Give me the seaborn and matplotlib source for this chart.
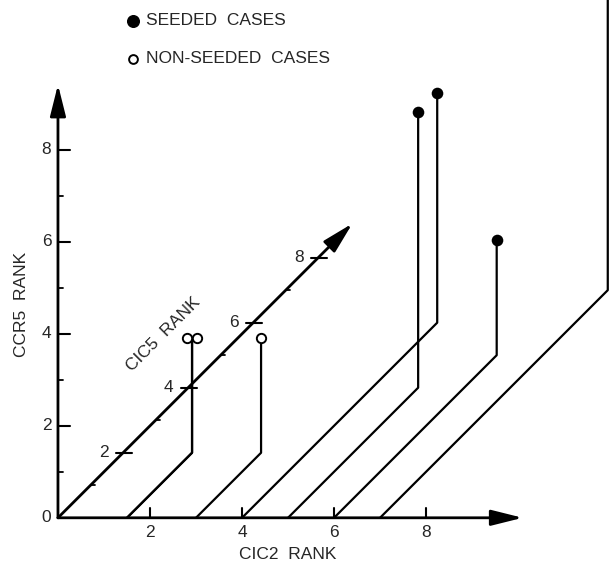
import numpy as np
import pandas as pd
import matplotlib
matplotlib.use("Agg")
import matplotlib.pyplot as plt
import seaborn as sns

# ranks of each case (two non-seeded cases coincide; the last one runs off the page)
cic2_rank = [1.5, 1.5, 3, 4, 5, 6, 7]
cic5_rank = [2, 2, 2, 6, 4, 5, 7]
ccr5_rank = [2.5, 2.5, 2.5, 5, 6, 2.5, 7]
group = ["NON-SEEDED", "NON-SEEDED", "NON-SEEDED", "SEEDED", "SEEDED", "SEEDED", "SEEDED"]

x_ticks = [2, 4, 6, 8]
y_ticks = [0, 2, 4, 6, 8]
y_minor = [1, 3, 5, 7]
z_ticks = [2, 4, 6, 8]
z_minor = [1, 3, 5, 7]

DEPTH = np.cos(np.pi / 4)  # oblique projection of the CIC5 axis
FS = 12.5

sns.set_style("white")
plt.rcParams["font.family"] = ["Liberation Sans", "DejaVu Sans"]

cases = pd.DataFrame({"cic2": cic2_rank, "cic5": cic5_rank,
                      "ccr5": ccr5_rank, "group": group})
cases["case"] = range(len(cases))
cases["px"] = cases.cic2 + DEPTH * cases.cic5
cases["py"] = cases.ccr5 + DEPTH * cases.cic5

# spread coincident points a little so both circles show
dup = cases.groupby(["px", "py"]).cumcount()
n = cases.groupby(["px", "py"])["case"].transform("count")
cases["mx"] = cases.px + (dup - (n - 1) / 2) * 0.23

# path: base on CIC2 axis -> back along CIC5 -> up to CCR5
rows = []
for _, r in cases.iterrows():
    rows.append((r.case, 0, r.cic2, 0.0))
    rows.append((r.case, 1, r.px, DEPTH * r.cic5))
    rows.append((r.case, 2, r.px, r.py))
paths = pd.DataFrame(rows, columns=["case", "step", "x", "y"])

fig = plt.figure(figsize=(6.11, 5.67), dpi=100)
ax = fig.add_axes([0, 0, 1, 1])
ax.set_xlim(-1.26, 12.02)
ax.set_ylim(-1.07, 11.26)
ax.axis("off")

sns.lineplot(data=paths, x="x", y="y", units="case", estimator=None, sort=False,
             color="black", lw=1.6, legend=False, ax=ax)

arrow = dict(arrowstyle="-|>,head_length=1.2,head_width=0.3", color="black",
             lw=2, mutation_scale=16, shrinkA=0, shrinkB=0)
ax.annotate("", xy=(10.1, 0), xytext=(0, 0), arrowprops=arrow)
ax.annotate("", xy=(0, 9.42), xytext=(0, 0), arrowprops=arrow)
ax.annotate("", xy=(DEPTH * 9.05, DEPTH * 9.05), xytext=(0, 0), arrowprops=arrow)

# ticks
for t in x_ticks:
    ax.plot([t, t], [0, 0.22], color="black", lw=1.5)
    ax.text(t, -0.33, str(t), ha="center", va="center", fontsize=FS)
for t in y_ticks:
    if t:
        ax.plot([0, 0.27], [t, t], color="black", lw=1.5)
    ax.text(-0.25, t, str(t), ha="center", va="center", fontsize=FS)
for t in y_minor:
    ax.plot([0, 0.1], [t, t], color="black", lw=1.3)
for t in z_ticks:
    zx, zy = DEPTH * t, DEPTH * t
    ax.plot([zx - 0.15, zx + 0.2], [zy, zy], color="black", lw=1.5)
    ax.text(zx - 0.42, zy, str(t), ha="center", va="center", fontsize=FS)
for t in z_minor:
    zx, zy = DEPTH * t, DEPTH * t
    ax.plot([zx, zx + 0.1], [zy, zy], color="black", lw=1.3)

ax.text(5.0, -0.8, "CIC2  RANK", ha="center", va="center", fontsize=FS)
ax.text(-0.8, 4.65, "CCR5  RANK", ha="center", va="center", rotation=90, fontsize=FS)
ax.text(2.29, 4.0, "CIC5  RANK", ha="center", va="center", rotation=45, fontsize=FS)

seed = cases[cases.group == "SEEDED"]
non = cases[cases.group == "NON-SEEDED"]
sns.scatterplot(data=seed, x="mx", y="py", color="black", s=70, linewidth=0,
                legend=False, ax=ax, zorder=5)
sns.scatterplot(data=non, x="mx", y="py", color="white", edgecolor="black",
                s=45, linewidth=1.4, legend=False, ax=ax, zorder=5)

# key
ax.scatter([1.62], [10.81], s=70, color="black", clip_on=False)
ax.scatter([1.62], [9.98], s=40, facecolor="white", edgecolor="black", lw=1.4,
           clip_on=False)
ax.text(1.91, 10.81, "SEEDED  CASES", va="center", fontsize=FS)
ax.text(1.91, 9.98, "NON-SEEDED  CASES", va="center", fontsize=FS)

fig.savefig("out.png", dpi=100)
